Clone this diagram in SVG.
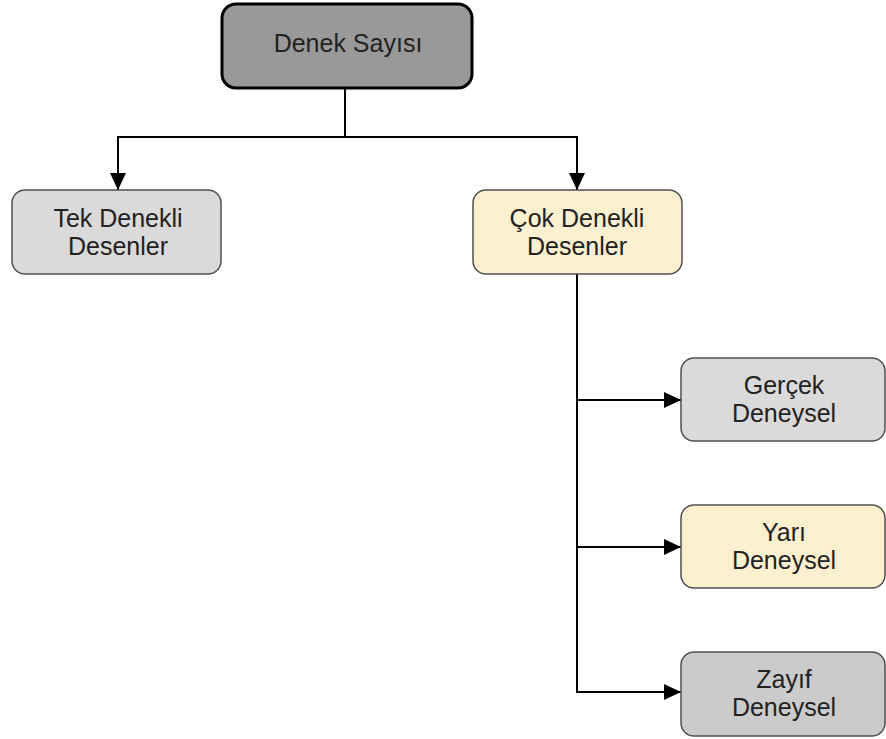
<svg xmlns="http://www.w3.org/2000/svg" width="886" height="739" viewBox="0 0 886 739">
  <defs>
    <marker id="arrow" viewBox="0 0 17 16" refX="17" refY="8" markerWidth="17" markerHeight="16" markerUnits="userSpaceOnUse" orient="auto">
      <path d="M0,0 L17,8 L0,16 z" fill="#000"/>
    </marker>
    <style>
      .node rect { stroke: #505050; stroke-width: 1.5; }
      .gray rect { fill: #dadada; }
      .dgray rect { fill: #cbcbcb; }
      .cream rect { fill: #fdf0cf; }
      .root rect { fill: #999999; stroke: #000; stroke-width: 3; }
      text { font-family: "Liberation Sans", Arial, sans-serif; font-size: 25px; fill: #222; text-anchor: middle; }
      .edge { fill: none; stroke: #000; stroke-width: 2; }
      .edge.arr { marker-end: url(#arrow); }
    </style>
  </defs>
  <rect width="886" height="739" fill="#fff"/>

  <g id="connectors">
    <path class="edge" d="M345,88 V137"/>
    <path class="edge arr" d="M345,137 H118 V190"/>
    <path class="edge arr" d="M345,137 H577 V190"/>
    <path class="edge" d="M577,274 V547"/>
    <path class="edge arr" d="M577,400 H681"/>
    <path class="edge arr" d="M577,547 H681"/>
    <path class="edge arr" d="M577,547 V692 H681"/>
  </g>

  <g id="node-denek-sayisi" class="node root">
    <rect x="222" y="4" width="250" height="84" rx="14"/>
    <text x="348" y="52">Denek Sayısı</text>
  </g>

  <g id="node-tek-denekli" class="node gray">
    <rect x="12" y="190" width="209" height="84" rx="13"/>
    <text x="118" y="227">Tek Denekli</text>
    <text x="118" y="255">Desenler</text>
  </g>

  <g id="node-cok-denekli" class="node cream">
    <rect x="473" y="190" width="209" height="84" rx="13"/>
    <text x="577" y="227">Çok Denekli</text>
    <text x="577" y="255">Desenler</text>
  </g>

  <g id="node-gercek" class="node gray">
    <rect x="681" y="358" width="204" height="83" rx="13"/>
    <text x="784" y="394">Gerçek</text>
    <text x="784" y="422">Deneysel</text>
  </g>

  <g id="node-yari" class="node cream">
    <rect x="681" y="505" width="204" height="83" rx="13"/>
    <text x="784" y="541">Yarı</text>
    <text x="784" y="569">Deneysel</text>
  </g>

  <g id="node-zayif" class="node dgray">
    <rect x="681" y="652" width="204" height="84" rx="13"/>
    <text x="784" y="688">Zayıf</text>
    <text x="784" y="716">Deneysel</text>
  </g>
</svg>
